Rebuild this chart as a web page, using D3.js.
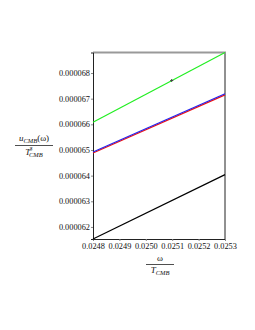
<!doctype html>
<html lang='en'>
  <head>
    <meta charset='utf-8' />
    <style>
      * { padding: 0; margin: 0; }
      body { background: #fff; }
      svg { display: block; font-family: 'Liberation Serif', 'Times New Roman', serif; }
    </style>
  </head>
  <body>
    <div id='container'></div>
    <script src='https://d3js.org/d3.v7.min.js'></script>
    <script type='text/javascript'>

      // x values of the two ends of each curve (omega / T_CMB)
      var xEnds = [0.0248, 0.0253];
      var green = [0.00006608, 0.0000688];
      var blue = [0.00006492, 0.00006719];
      var red = [0.00006488, 0.00006715];
      var black = [0.00006153, 0.00006404];
      var point = [0.025098, 0.00006771];

      var xTicks = [0.0248, 0.0249, 0.0250, 0.0251, 0.0252, 0.0253];
      var yTicks = [0.000062, 0.000063, 0.000064, 0.000065, 0.000066, 0.000067, 0.000068];

      const width = 255, height = 330;
      const plotL = 93, plotR = 225, plotT = 52.5, plotB = 239;

      var svg = d3.select('#container').append('svg')
          .attr('width', width)
          .attr('height', height);

      var x = d3.scaleLinear().domain([0.0248, 0.0253]).range([plotL, plotR]);
      var y = d3.scaleLinear().domain([0.00006153, 0.0000688]).range([plotB, plotT]);

      // frame
      svg.append('line').attr('x1', plotR).attr('x2', plotR).attr('y1', plotT).attr('y2', plotB)
        .attr('stroke', '#222').attr('stroke-width', 1);
      svg.append('line').attr('x1', plotL).attr('x2', plotR + 1).attr('y1', plotT).attr('y2', plotT)
        .attr('stroke', '#999').attr('stroke-width', 2);

      var xAxis = svg.append('g')
        .attr('transform', 'translate(0,' + plotB + ')')
        .call(d3.axisBottom(x).tickValues(xTicks).tickFormat(d3.format('.4f')).tickSize(2).tickPadding(2));
      var yAxis = svg.append('g')
        .attr('transform', 'translate(' + plotL + ',0)')
        .call(d3.axisLeft(y).tickValues(yTicks).tickFormat(d3.format('.6f')).tickSize(2).tickPadding(1));

      [xAxis, yAxis].forEach(function(a) {
        a.select('.domain').attr('stroke', '#222');
        a.selectAll('.tick line').attr('stroke', '#888');
        a.selectAll('text').attr('font-family', 'Liberation Serif').attr('font-size', 8.3).attr('fill', '#111');
      });

      var line = d3.line()
        .x(function(d) { return x(d[0]); })
        .y(function(d) { return y(d[1]); });

      var series = [
        { v: black, c: '#000' },
        { v: green, c: '#22ee22' },
        { v: red, c: '#ee1111' },
        { v: blue, c: '#2222ee' }
      ];
      series.forEach(function(s) {
        svg.append('path')
          .datum(xEnds.map(function(xv, i) { return [xv, s.v[i]]; }))
          .attr('d', line)
          .attr('fill', 'none')
          .attr('stroke', s.c)
          .attr('stroke-width', 1.2);
      });

      svg.append('path')
        .attr('transform', 'translate(' + x(point[0]) + ',' + y(point[1]) + ')')
        .attr('d', d3.symbol(d3.symbolCross, 5))
        .attr('fill', '#444');

      // y axis title
      var yt = svg.append('g').attr('font-size', 9).attr('text-anchor', 'middle').attr('fill', '#111');
      var num = yt.append('text').attr('x', 34).attr('y', 141);
      num.append('tspan').attr('font-style', 'italic').text('u');
      num.append('tspan').attr('font-style', 'italic').attr('font-size', 6.5).attr('dy', 2).text('CMB');
      num.append('tspan').attr('dy', -2).text('(ω)');
      yt.append('line').attr('x1', 15).attr('x2', 53).attr('y1', 145.5).attr('y2', 145.5)
        .attr('stroke', '#222').attr('stroke-width', 0.8);
      var den = yt.append('text').attr('x', 34).attr('y', 155);
      den.append('tspan').attr('font-style', 'italic').text('T');
      den.append('tspan').attr('font-style', 'italic').attr('font-size', 6.5).attr('dx', -1).attr('dy', -4).text('3');
      den.append('tspan').attr('font-style', 'italic').attr('font-size', 6.5).attr('dx', -3.5).attr('dy', 6).text('CMB');

      // x axis title
      var xt = svg.append('g').attr('font-size', 9).attr('text-anchor', 'middle').attr('fill', '#111');
      xt.append('text').attr('x', 160).attr('y', 261).text('ω');
      xt.append('line').attr('x1', 146).attr('x2', 174).attr('y1', 264.5).attr('y2', 264.5)
        .attr('stroke', '#222').attr('stroke-width', 0.8);
      var xd = xt.append('text').attr('x', 160).attr('y', 273);
      xd.append('tspan').attr('font-style', 'italic').text('T');
      xd.append('tspan').attr('font-style', 'italic').attr('font-size', 6.5).attr('dy', 2).text('CMB');
    </script>
  </body>
</html>
